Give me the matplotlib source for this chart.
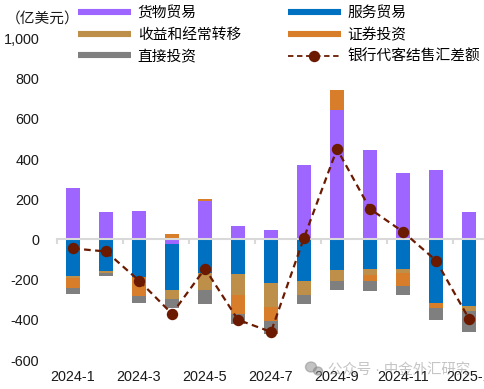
import matplotlib
matplotlib.use("Agg")
import matplotlib.pyplot as plt
from matplotlib.lines import Line2D
from matplotlib.patches import Ellipse
import numpy as np

plt.rcParams['font.family'] = ['Liberation Sans', 'Noto Sans CJK SC', 'DejaVu Sans']
plt.rcParams['axes.unicode_minus'] = False

months = ['2024-1','2024-2','2024-3','2024-4','2024-5','2024-6','2024-7',
          '2024-8','2024-9','2024-10','2024-11','2024-12','2025-1']
goods      = [255, 136, 142, -25, 190, 66, 46, 368, 645, 446, 330, 345, 136]
services   = [-180, -155, -185, -225, -165, -170, -215, -205, -150, -145, -145, -315, -330]
income     = [-12, -12, -2, -45, -85, -105, -120, -70, -55, -30, -20, -2, -25]
securities = [-48, 0, -93, 25, 10, -95, -70, 3, 97, -30, -65, -23, 0]
direct     = [-30, -13, -35, -45, -70, -50, -65, -45, -45, -50, -45, -60, -105]
spread     = [-45, -60, -205, -370, -145, -400, -460, 8, 450, 152, 38, -105, -395]

series = [('货物贸易', goods, '#9E66FF'),
          ('服务贸易', services, '#0070C0'),
          ('收益和经常转移', income, '#BD8F48'),
          ('证券投资', securities, '#D87E2A'),
          ('直接投资', direct, '#7F7F7F')]
line_name = '银行代客结售汇差额'
line_color = '#6B1A00'

W, H = 485, 389
fig = plt.figure(figsize=(W/100, H/100), dpi=100)
ax = fig.add_axes([56.5/W, (H-360)/H, 429/W, 321.5/H])

x = np.arange(len(months))
pos = np.zeros(len(months))
neg = np.zeros(len(months))
for name, vals, color in series:
    v = np.array(vals, dtype=float)
    bottom = np.where(v >= 0, pos, neg)
    ax.bar(x, v, width=0.40, bottom=bottom, color=color, linewidth=0, zorder=2)
    pos += np.where(v >= 0, v, 0)
    neg += np.where(v < 0, v, 0)

ax.plot(x, spread, color=line_color, lw=1.6, dashes=(3, 2), marker='o', ms=7.2,
        markerfacecolor=line_color, markeredgecolor=line_color, zorder=5)

ax.set_xlim(-0.5, 12.5)
ax.set_ylim(-600, 1000)
ax.set_yticks(np.arange(-600, 1001, 200))
ax.set_yticklabels(['-600','-400','-200','0','200','400','600','800','1,000'], fontsize=10.4)
ax.tick_params(axis='y', length=0, pad=12.5, colors='#1a1a1a')

for s in ['top', 'right', 'left']:
    ax.spines[s].set_visible(False)
ax.spines['bottom'].set_position(('data', 0))
ax.spines['bottom'].set_color('#D9D9D9')
ax.spines['bottom'].set_linewidth(1.5)
ax.spines['bottom'].set_zorder(3)

ax.set_xticks(np.arange(-0.5, 12.6, 2))
ax.set_xticklabels([])
ax.tick_params(axis='x', which='major', length=3.5, width=1.5, color='#D9D9D9')
ax.set_xticks(x[::2], minor=True)
ax.set_xticklabels(months[::2], minor=True, fontsize=10.4, color='#1a1a1a')
ax.tick_params(axis='x', which='minor', length=0, pad=94)

handles = [Line2D([], [], color=c, lw=4.4, solid_capstyle='butt') for _, _, c in series]
labels = [n for n, _, _ in series]
handles.append(Line2D([], [], color=line_color, lw=1.3, dashes=(3, 2), marker='o', ms=7.2))
labels.append(line_name)
order = [0, 2, 4, 1, 3, 5]
fig.legend([handles[i] for i in order], [labels[i] for i in order], ncol=2,
           loc='upper left', bbox_to_anchor=(78/W, 1-6/H), bbox_transform=fig.transFigure,
           frameon=False, fontsize=10.6, handlelength=3.6, handletextpad=0.45,
           labelspacing=0.52, columnspacing=3.2, borderaxespad=0, borderpad=0)

fig.text(6/W, 1-20/H, '（亿美元）', fontsize=10.6, ha='left', va='center', color='#1a1a1a')

# watermark
fig.text(328/W, 1-370/H, '公众号 · 中金外汇研究', fontsize=10.4, color='#7f7f7f', alpha=0.45,
         ha='left', va='center')
fig.add_artist(Ellipse((311/W, 1-367/H), 11/W, 10/H, color='#888888', alpha=0.5,
                       transform=fig.transFigure))
fig.add_artist(Ellipse((318/W, 1-371/H), 9/W, 8/H, color='#888888', alpha=0.5,
                       transform=fig.transFigure))

fig.savefig('out.png', dpi=100)
